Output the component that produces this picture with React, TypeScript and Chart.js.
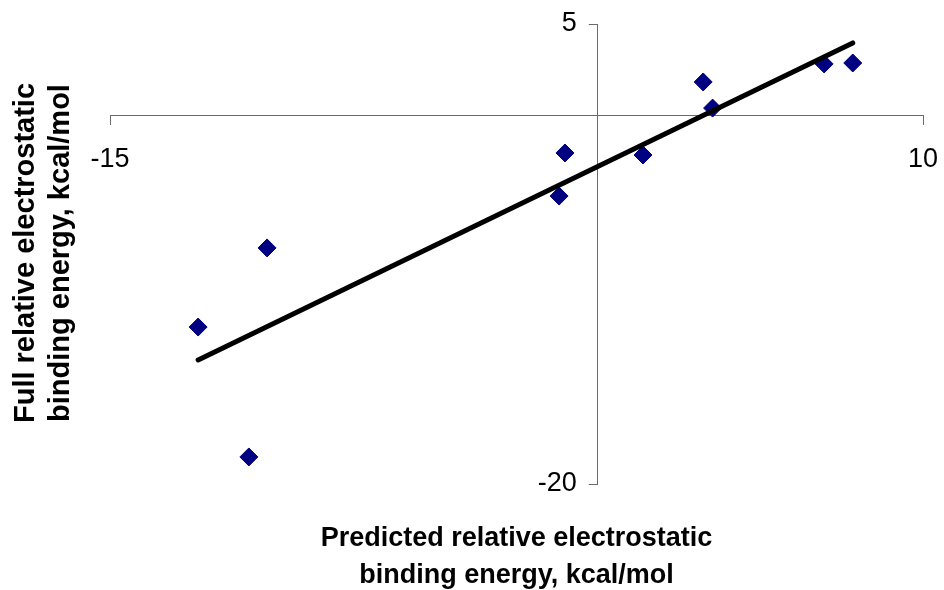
import React, { useEffect, useRef } from "react";
import { Chart, registerables } from "chart.js";

Chart.register(...registerables);

// Data
const predicted = [-12.29, -10.73, -10.17, -1.19, -1.01, 1.39, 3.24, 3.53, 6.96, 7.84];
const full = [-11.47, -18.53, -7.17, -4.35, -2.01, -2.12, 1.85, 0.43, 2.83, 2.88];
const trendX = [-12.29, 7.84];
const trendY = [-13.26, 3.97];
const xTicks = [-15, 10];
const yTicks = [-20, 5];
const xTitle = ["Predicted relative electrostatic", "binding energy, kcal/mol"];
const yTitle = ["Full relative electrostatic", "binding energy, kcal/mol"];

const FONT = '"Liberation Sans", Arial, sans-serif';

// Move the axes so that they cross at the origin (0, 0)
const crossAxesPlugin = {
  id: "crossAxes",
  afterLayout(chart: any) {
    const xs = chart.scales.x;
    const ys = chart.scales.y;
    const x0 = xs.getPixelForValue(0);
    const y0 = ys.getPixelForValue(0);
    ys.left = 0;
    ys.right = x0;
    xs.top = y0;
    xs.bottom = chart.height;
  },
};

const titlePlugin = {
  id: "axisTitles",
  afterDraw(chart: any) {
    const { ctx, chartArea } = chart;
    ctx.save();
    ctx.fillStyle = "#000";
    ctx.textAlign = "center";
    ctx.textBaseline = "alphabetic";
    ctx.font = `bold 27px ${FONT}`;
    const cx = (chartArea.left + chartArea.right) / 2;
    ctx.fillText(xTitle[0], cx, chartArea.bottom + 62);
    ctx.fillText(xTitle[1], cx, chartArea.bottom + 99);
    ctx.font = `bold 29px ${FONT}`;
    const cy = (chartArea.top + chartArea.bottom) / 2 - 1;
    ctx.save();
    ctx.translate(chartArea.left - 76, cy);
    ctx.rotate(-Math.PI / 2);
    ctx.fillText(yTitle[0], 0, 0);
    ctx.restore();
    ctx.save();
    ctx.translate(chartArea.left - 41, cy);
    ctx.rotate(-Math.PI / 2);
    ctx.fillText(yTitle[1], 0, 0);
    ctx.restore();
    ctx.restore();
  },
};

const noPadding = (s: any) => {
  s.paddingLeft = 0;
  s.paddingRight = 0;
  s.paddingTop = 0;
  s.paddingBottom = 0;
};

export default function App() {
  const ref = useRef<HTMLCanvasElement | null>(null);
  useEffect(() => {
    if (!ref.current) return;
    const axisColor = "#6a6a6a";
    const chart = new Chart(ref.current, {
      type: "scatter",
      data: {
        datasets: [
          {
            type: "line",
            label: "Trend",
            data: trendX.map((x, i) => ({ x, y: trendY[i] })),
            borderColor: "#000",
            borderWidth: 5,
            borderCapStyle: "round",
            pointRadius: 0,
            fill: false,
          } as any,
          {
            label: "Data",
            data: predicted.map((x, i) => ({ x, y: full[i] })),
            pointStyle: "rectRot",
            pointRadius: 9,
            backgroundColor: "#000080",
            borderColor: "#000080",
            borderWidth: 1,
          },
        ],
      },
      options: {
        animation: false,
        responsive: false,
        layout: { padding: { left: 110, right: 21, top: 24, bottom: 106 } },
        plugins: { legend: { display: false }, tooltip: { enabled: false } },
        scales: {
          x: {
            type: "linear",
            position: "bottom",
            min: -15,
            max: 10,
            afterBuildTicks: (s: any) => {
              s.ticks = xTicks.map((v) => ({ value: v }));
            },
            afterFit: (s: any) => {
              s.height = 0;
              noPadding(s);
            },
            grid: { drawOnChartArea: false, drawTicks: true, tickLength: 9, color: axisColor },
            border: { display: true, color: axisColor, width: 1 },
            ticks: {
              color: "#000",
              font: { family: FONT, size: 27 },
              padding: 18,
              maxRotation: 0,
              autoSkip: false,
            },
          },
          y: {
            type: "linear",
            position: "left",
            min: -20,
            max: 5,
            afterBuildTicks: (s: any) => {
              s.ticks = yTicks.map((v) => ({ value: v }));
            },
            afterFit: (s: any) => {
              s.width = 0;
              noPadding(s);
            },
            grid: { drawOnChartArea: false, drawTicks: true, tickLength: 9, color: axisColor },
            border: { display: true, color: axisColor, width: 1 },
            ticks: {
              color: "#000",
              font: { family: FONT, size: 27 },
              padding: 12,
              autoSkip: false,
            },
          },
        },
      },
      plugins: [crossAxesPlugin, titlePlugin],
    });
    return () => chart.destroy();
  }, []);
  return (
    <div style={{ position: "absolute", left: 0, top: 0, width: 944, height: 590, background: "#fff" }}>
      <canvas ref={ref} width={944} height={590} />
    </div>
  );
}
